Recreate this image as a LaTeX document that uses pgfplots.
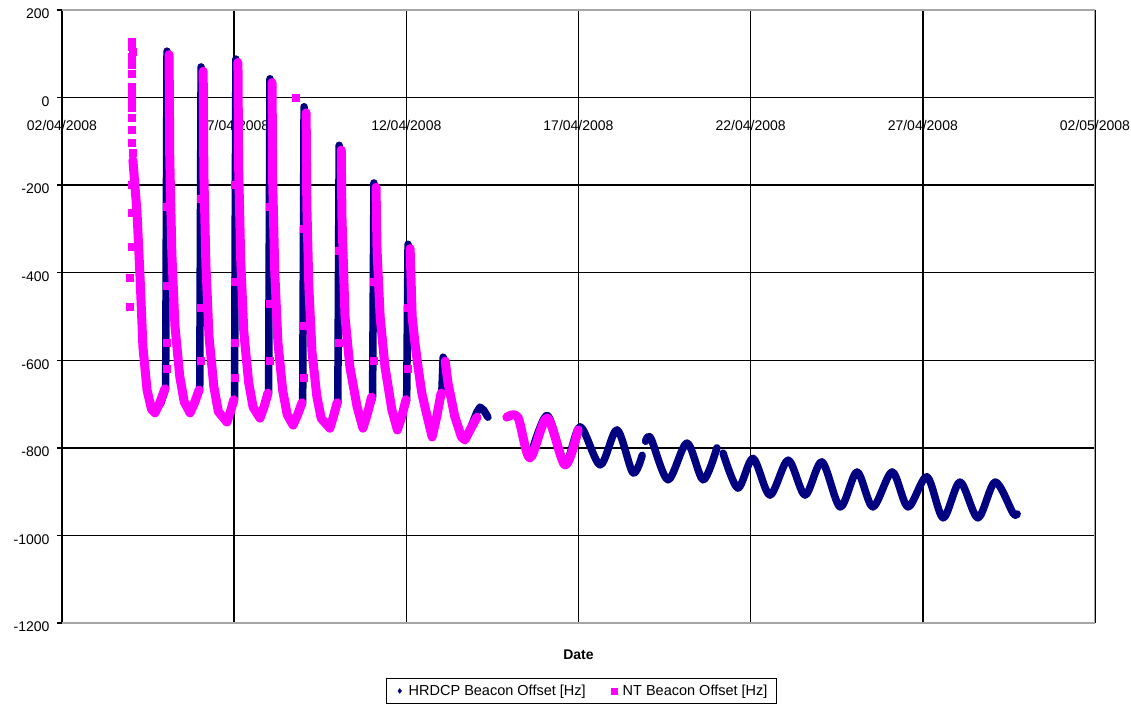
\documentclass[border=0pt]{standalone}
\usepackage{pgfplots}
\pgfplotsset{compat=1.18}
\usepackage{fontspec}
\setmainfont{Liberation Sans}

\definecolor{hrdcp}{RGB}{0,0,128}
\definecolor{ntmag}{RGB}{255,0,255}

\begin{document}
\begin{tikzpicture}
\useasboundingbox (-62bp,-82bp) rectangle (1069bp,623bp);
\begin{axis}[
  scale only axis, width=1033bp, height=613bp,
  xmin=0, xmax=30, ymin=-1200, ymax=200,
  xtick={0,5,...,30},
  xticklabels={02/04/2008,07/04/2008,12/04/2008,17/04/2008,22/04/2008,27/04/2008,02/05/2008},
  ytick={-1200,-1000,...,200},
  yticklabels={-1200,-1000,-800,-600,-400,-200,0,200},
  grid=major, major grid style={black, line width=1.5bp},
  axis line style={draw=none},
  tick align=outside, major tick length=5bp,
  xtick style={draw=none}, ytick style={black, line width=1.5bp},
  ytick pos=left, xtick pos=bottom,
  ticklabel style={font=\fontsize{14bp}{16bp}\selectfont},
  xticklabel style={anchor=center, yshift=502bp},
  yticklabel style={xshift=-4bp, yshift=-4bp},
  xlabel={Date},
  xlabel style={at={(axis description cs:0.5,0)}, anchor=center, yshift=-32bp,
    font=\fontsize{14bp}{16bp}\selectfont\bfseries},
  legend style={at={(axis description cs:0.503,0)}, anchor=north, yshift=-55bp,
    draw=black, line width=1bp, font=\fontsize{14.5bp}{17bp}\selectfont,
    inner xsep=7bp, inner ysep=4.5bp,
    /tikz/every even column/.append style={column sep=20bp}},
  legend image code/.code={\path[draw=none, fill=none] (0bp,0bp) -- (13bp,0bp);
    \draw[#1, line width=0.3bp] plot coordinates {(6bp,0bp)};},
  legend columns=2,
  unbounded coords=jump,
]

% HRDCP: daily spikes
\addplot[forget plot, draw=hrdcp, line width=7.5bp, line join=round, line cap=round] coordinates {
 (2.86,-700) (3.01,-665) (3.05,106) (3.13,-140) (3.19,-356) (3.28,-521) (3.42,-637) (3.55,-695) (3.72,-720) (3.85,-697)
 (4.00,-668) (4.04,70) (4.12,-173) (4.18,-384) (4.27,-546) (4.41,-660) (4.54,-717) (4.79,-741) (4.89,-718)
 (5.01,-690) (5.05,88) (5.13,-157) (5.19,-370) (5.28,-535) (5.42,-650) (5.55,-707) (5.75,-732) (5.87,-706)
 (6.00,-675) (6.04,43) (6.12,-194) (6.18,-400) (6.27,-558) (6.41,-669) (6.54,-724) (6.71,-748) (6.84,-725)
 (6.99,-697) (7.03,-21) (7.11,-244) (7.17,-434) (7.26,-580) (7.40,-682) (7.53,-733) (7.78,-755) (7.88,-729)
 (8.01,-697) (8.05,-109) (8.13,-272) (8.22,-501) (8.36,-615) (8.57,-706) (8.74,-755) (8.87,-722)
 (9.02,-684) (9.06,-195) (9.15,-349) (9.24,-501) (9.38,-615) (9.58,-713) (9.74,-759) (9.87,-728)
 (10.01,-690) (10.05,-335) (10.17,-501) (10.25,-560) (10.34,-615) (10.45,-675) (10.56,-713) (10.75,-775) (10.88,-730)
 (11.03,-675) (11.07,-593) (11.13,-610) (11.21,-652) (11.41,-729) (11.60,-775) (11.70,-782) (11.88,-752)
 (12.05,-718) (12.14,-707) (12.25,-714) (12.37,-730)
};
% HRDCP: smooth daily oscillation
\addplot[forget plot, smooth, draw=hrdcp, line width=7.5bp, line join=round, line cap=round] coordinates {
 (13.59,-823) (14.09,-726) (14.61,-835) (15.05,-752) (15.63,-839) (16.12,-759) (16.58,-857) (16.85,-817)
};
\addplot[forget plot, smooth, draw=hrdcp, line width=7.5bp, line join=round, line cap=round] coordinates {
 (16.95,-785) (17.10,-778) (17.60,-873) (18.15,-789) (18.62,-873) (19.02,-800)
};
\addplot[forget plot, smooth, draw=hrdcp, line width=7.5bp, line join=round, line cap=round] coordinates {
 (19.20,-812) (19.63,-892) (20.07,-824) (20.56,-908) (21.09,-828) (21.58,-908) (22.07,-832) (22.60,-935)
 (23.09,-855) (23.55,-935) (24.11,-855) (24.57,-935) (25.12,-866) (25.59,-960) (26.08,-878) (26.60,-960)
 (27.10,-878) (27.62,-949) (27.74,-951)
};

% NT: decay after each spike
\addplot[forget plot, draw=ntmag, line width=9bp, line join=round, line cap=round] coordinates {
 (2.06,-143) (2.18,-264) (2.27,-416) (2.35,-569) (2.47,-668) (2.60,-712) (2.70,-720) (2.84,-697) (2.99,-665) (3.00,nan)
 (3.11,98) (3.13,-140) (3.19,-356) (3.28,-521) (3.42,-637) (3.55,-695) (3.72,-720) (3.85,-697) (3.98,-668) (3.99,nan)
 (4.10,60) (4.12,-173) (4.18,-384) (4.27,-546) (4.41,-660) (4.54,-717) (4.79,-741) (4.89,-718) (4.99,-690) (5.00,nan)
 (5.11,80) (5.13,-157) (5.19,-370) (5.28,-535) (5.42,-650) (5.55,-707) (5.75,-732) (5.87,-706) (5.98,-675) (5.99,nan)
 (6.10,34) (6.12,-194) (6.18,-400) (6.27,-558) (6.41,-669) (6.54,-724) (6.71,-748) (6.84,-725) (6.97,-697) (6.98,nan)
 (7.09,-35) (7.11,-244) (7.17,-434) (7.26,-580) (7.40,-682) (7.53,-733) (7.78,-755) (7.88,-729) (7.99,-697) (8.00,nan)
 (8.11,-120) (8.13,-272) (8.22,-501) (8.36,-615) (8.57,-706) (8.74,-755) (8.87,-722) (8.99,-684) (9.00,nan)
 (9.12,-205) (9.15,-349) (9.24,-501) (9.38,-615) (9.58,-713) (9.74,-759) (9.87,-728) (9.99,-690) (10.00,nan)
 (10.11,-345) (10.17,-501) (10.25,-560) (10.34,-615) (10.45,-675) (10.56,-713) (10.75,-775) (10.88,-730) (11.01,-675) (11.02,nan)
 (11.13,-602) (11.21,-652) (11.41,-729) (11.60,-775) (11.70,-782) (11.88,-755) (12.05,-730)
};
% NT: scattered readings on the rising edges
\addplot[forget plot, only marks, mark=square*, mark size=3.5bp, color=ntmag] coordinates {
 (2.03,128) (2.03,116) (2.04,104) (2.03,94) (2.02,74) (2.03,55) (2.01,25) (2.02,8) (2.03,-8) (2.01,-24)
 (2.02,-46) (2.03,-74) (2.03,-104) (2.04,-127) (2.02,-200) (2.02,-262) (2.03,-341) (1.98,-412) (1.96,-478)
 (3.03,-250) (3.03,-430) (3.03,-560) (3.03,-620)
 (4.02,-230) (4.02,-480) (4.02,-600)
 (5.03,-200) (5.03,-420) (5.03,-560) (5.03,-640)
 (6.02,-250) (6.02,-470) (6.02,-600)
 (6.80,0)
 (7.01,-300) (7.01,-520) (7.01,-640)
 (8.03,-350) (8.03,-560)
 (9.04,-420) (9.04,-600)
 (10.03,-480) (10.03,-620)
};
% NT: second pass
\addplot[forget plot, smooth, draw=ntmag, line width=9bp, line join=round, line cap=round] coordinates {
 (12.92,-730) (13.24,-730) (13.59,-823) (14.09,-732) (14.61,-839) (14.99,-759)
};

% plot frame
\draw[gray!70, line width=1.5bp] (rel axis cs:0,1) -- (rel axis cs:1,1) -- (rel axis cs:1,0) -- (rel axis cs:0,0);

\addlegendimage{only marks, mark=diamond*, mark size=2.5bp, color=hrdcp}
\addlegendentry{HRDCP Beacon Offset [Hz]}
\addlegendimage{only marks, mark=square*, mark size=3bp, color=ntmag}
\addlegendentry{NT Beacon Offset [Hz]\hspace{44bp}}
\end{axis}
\end{tikzpicture}
\end{document}
